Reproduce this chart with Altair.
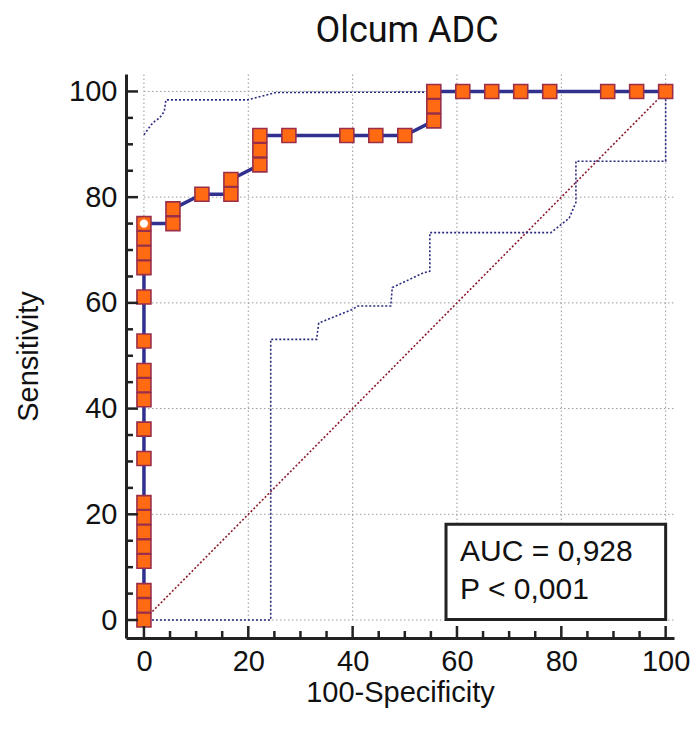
import altair as alt
import pandas as pd

# ROC points: 100-Specificity (x) and Sensitivity (y)
roc_x = [0, 0, 0, 0, 0, 0, 0, 0, 0, 0, 0, 0, 0, 0, 0, 0, 0, 0, 0,
         5.56, 5.56, 11.11, 16.67, 16.67, 22.22, 22.22, 22.22,
         27.78, 38.89, 44.44, 50.0, 55.56, 55.56, 55.56,
         61.11, 66.67, 72.22, 77.78, 88.89, 94.44, 100]
roc_y = [0, 2.78, 5.56, 11.11, 13.89, 16.67, 19.44, 22.22, 30.56, 36.11,
         41.67, 44.44, 47.22, 52.78, 61.11, 66.67, 69.44, 72.22, 75.0,
         75.0, 77.78, 80.56, 80.56, 83.33, 86.11, 88.89, 91.67,
         91.67, 91.67, 91.67, 91.67, 94.44, 97.22, 100,
         100, 100, 100, 100, 100, 100, 100]

# optimal criterion point
opt_x = [0]
opt_y = [75.0]

# confidence bounds
upper_x = [0, 1.4, 2.0, 3.0, 3.9, 4.2, 19.9, 25.3, 100]
upper_y = [91.8, 93.7, 94.3, 95.0, 96.2, 98.4, 98.4, 99.8, 100]
lower_x = [0, 24.3, 24.3, 33.1, 33.5, 39.8, 41.0, 47.3, 47.6, 53.6, 54.8, 54.8,
           78.0, 81.5, 82.8, 82.8, 100, 100]
lower_y = [0, 0, 53.1, 53.1, 56.2, 58.7, 59.4, 59.4, 62.9, 65.7, 66.0, 73.3,
           73.3, 76.0, 79.0, 86.8, 86.8, 100]

diag_x = [0, 100]
diag_y = [0, 100]

major_ticks = [0, 20, 40, 60, 80, 100]
minor_ticks = [5, 10, 15, 25, 30, 35, 45, 50, 55, 65, 70, 75, 85, 90, 95]

title_text = ["Olcum ADC"]
auc_text = ["AUC = 0,928", "P < 0,001"]

X_DOM = [-3.44, 101.6]
Y_DOM = [-3.4, 103.3]
W, H = 548, 564

xs = alt.Scale(domain=X_DOM, nice=False, zero=False)
ys = alt.Scale(domain=Y_DOM, nice=False, zero=False)

LABEL_FONT = "Liberation Sans"

x_axis = alt.Axis(values=major_ticks, ticks=False, grid=False, domain=True,
                  domainColor="#222222", domainWidth=3, labelFont=LABEL_FONT,
                  labelFontSize=29, labelColor="#111111", labelPadding=9,
                  title="100-Specificity", titleFont=LABEL_FONT, titleFontSize=29,
                  titleFontWeight="normal", titleColor="#111111",
                  titleBaseline="alphabetic", titleY=63)
y_axis = alt.Axis(values=major_ticks, ticks=False, grid=False, domain=True,
                  domainColor="#222222", domainWidth=3, labelFont=LABEL_FONT,
                  labelFontSize=29, labelColor="#111111", labelPadding=9,
                  title="Sensitivity", titleFont=LABEL_FONT, titleFontSize=29,
                  titleFontWeight="normal", titleColor="#111111", titlePadding=25)

roc_df = pd.DataFrame({"x": roc_x, "y": roc_y, "i": list(range(len(roc_x)))})
opt_df = pd.DataFrame({"x": opt_x, "y": opt_y})
ci_df = pd.concat([
    pd.DataFrame({"x": upper_x, "y": upper_y, "s": "upper", "i": range(len(upper_x))}),
    pd.DataFrame({"x": lower_x, "y": lower_y, "s": "lower", "i": range(len(lower_x))}),
])
diag_df = pd.DataFrame({"x": diag_x, "y": diag_y})
grid_df = pd.DataFrame({"v": major_ticks})
major_df = pd.DataFrame({"v": major_ticks})
minor_df = pd.DataFrame({"v": minor_ticks})
txt_df = pd.DataFrame({"t": auc_text, "y": [11.1, 4.0]})
title_df = pd.DataFrame({"t": title_text})

grid_color = "#9a9a9a"
hgrid = alt.Chart(grid_df).mark_rule(color=grid_color, strokeDash=[1.5, 2.5], strokeWidth=1).encode(
    y=alt.Y("v:Q", scale=ys, axis=y_axis),
    x=alt.datum(0, scale=xs, axis=x_axis),
    x2=alt.datum(X_DOM[1]),
)
vgrid = alt.Chart(grid_df).mark_rule(color=grid_color, strokeDash=[1.5, 2.5], strokeWidth=1).encode(
    x=alt.X("v:Q", scale=xs),
    y=alt.datum(0),
    y2=alt.datum(Y_DOM[1]),
)

xmaj = alt.Chart(major_df).mark_rule(color="#222222", strokeWidth=2.5).encode(
    x=alt.X("v:Q", scale=xs), y=alt.value(H), y2=alt.value(H - 12))
xmin = alt.Chart(minor_df).mark_rule(color="#222222", strokeWidth=2.5).encode(
    x=alt.X("v:Q", scale=xs), y=alt.value(H), y2=alt.value(H - 7))
ymaj = alt.Chart(major_df).mark_rule(color="#222222", strokeWidth=2.5).encode(
    y=alt.Y("v:Q", scale=ys), x=alt.value(0), x2=alt.value(12))
ymin = alt.Chart(minor_df).mark_rule(color="#222222", strokeWidth=2.5).encode(
    y=alt.Y("v:Q", scale=ys), x=alt.value(0), x2=alt.value(7))

ci = alt.Chart(ci_df).mark_line(color="#2a2a7e", strokeDash=[2, 2], strokeWidth=1.6).encode(
    x=alt.X("x:Q", scale=xs), y=alt.Y("y:Q", scale=ys), detail="s:N", order="i:Q")

diag = alt.Chart(diag_df).mark_line(color="#8b1a2a", strokeDash=[2, 2], strokeWidth=1.6).encode(
    x=alt.X("x:Q", scale=xs), y=alt.Y("y:Q", scale=ys))

roc_line = alt.Chart(roc_df).mark_line(color="#30308f", strokeWidth=3.5).encode(
    x=alt.X("x:Q", scale=xs), y=alt.Y("y:Q", scale=ys), order="i:Q")

roc_pts = alt.Chart(roc_df).mark_point(shape="square", filled=True, size=196, fill="#ff6a13",
                                       stroke="#9a2f4a", strokeWidth=1.6, opacity=1).encode(
    x=alt.X("x:Q", scale=xs), y=alt.Y("y:Q", scale=ys))

opt_pt = alt.Chart(opt_df).mark_point(shape="circle", filled=True, size=110, fill="white",
                                      stroke="#ff6a13", strokeWidth=2.2, opacity=1).encode(
    x=alt.X("x:Q", scale=xs), y=alt.Y("y:Q", scale=ys))

box = alt.Chart(pd.DataFrame({"a": [0]})).mark_rect(fill="white", stroke="#222222", strokeWidth=3).encode(
    x=alt.datum(57.9), x2=alt.datum(100), y=alt.datum(0.1), y2=alt.datum(18.1))

txt = alt.Chart(txt_df).mark_text(align="left", baseline="alphabetic", font=LABEL_FONT,
                                  fontSize=30, color="#111111").encode(
    x=alt.datum(60.6), y=alt.Y("y:Q", scale=ys), text="t:N")

title = alt.Chart(title_df).mark_text(align="center", baseline="alphabetic", font="Roboto",
                                      fontSize=36, color="#111111").encode(
    x=alt.value(281), y=alt.value(-32), text="t:N")

chart = alt.layer(hgrid, vgrid, diag, ci, roc_line, roc_pts, opt_pt, box, txt,
                  xmaj, xmin, ymaj, ymin, title).properties(
    width=W, height=H,
    autosize=alt.AutoSizeParams(type="none"),
    padding={"left": 118, "top": 66, "right": 17, "bottom": 82},
).configure_view(stroke=None)

chart.save("out.html", embed_options={"renderer": "svg", "actions": False})
